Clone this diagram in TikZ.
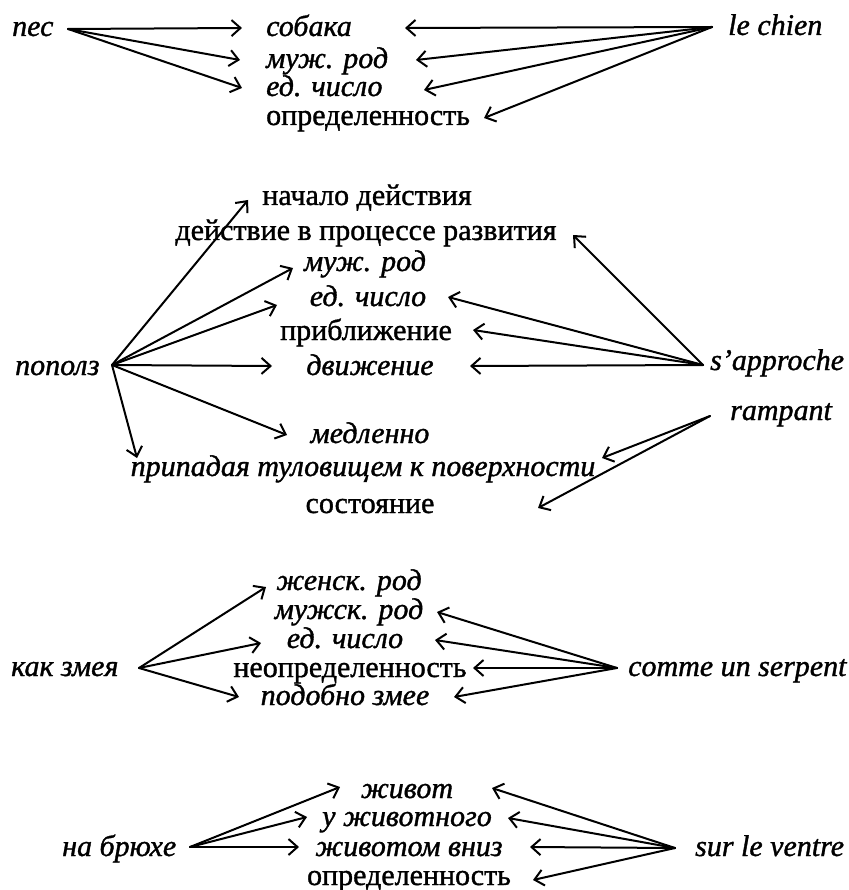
\documentclass[tikz,border=0pt]{standalone}
\usepackage{fontspec}
\setmainfont{Liberation Serif}[FakeBold=1.2]
\usetikzlibrary{arrows.meta}
\begin{document}
\begin{tikzpicture}[x=1pt,y=-1pt,
  lbl/.style={inner sep=0pt, text height=21pt, text depth=5pt, font=\fontsize{30}{32}\selectfont},
  it/.style={lbl, font=\fontsize{30}{32}\selectfont\itshape},
  arr/.style={line width=2pt, line cap=round, -{Straight Barb[length=9pt,width=16pt,line width=2pt]}},
  ]
\useasboundingbox[fill=white] (0,0) rectangle (848,890);

% ---------- block 1 ----------
\node[it, anchor=west] (pes) at (12,28) {пес};
\node[it, anchor=west] (chien) at (728,27) {le chien};
\node[it, anchor=west] (sobaka) at (266,28) {собака};
\node[it, anchor=west] (muzh1) at (266,60) {муж. род};
\node[it, anchor=west] (ed1) at (266,88) {ед. число};
\node[lbl, anchor=west] (opr1) at (266,117) {определенность};
\coordinate (pesA) at (68,29);
\coordinate (chienA) at (712,27);
\draw[arr] (pesA) -- ([shift={(-24,0)}]sobaka.west);
\draw[arr] (pesA) -- ([shift={(-26,0)}]muzh1.west);
\draw[arr] (pesA) -- ([shift={(-24,0)}]ed1.west);
\draw[arr] (chienA) -- ([shift={(139,0)}]sobaka.west);
\draw[arr] (chienA) -- ([shift={(150,0)}]muzh1.west);
\draw[arr] (chienA) -- ([shift={(158,2)}]ed1.west);
\draw[arr] (chienA) -- ([shift={(218,1)}]opr1.west);

% ---------- block 2 ----------
\node[lbl] (nach) at (367,197) {начало действия};
\node[lbl] (deist) at (366,232) {действие в процессе развития};
\node[it] (muzh2) at (365,263) {муж. род};
\node[it] (ed2) at (368,298) {ед. число};
\node[lbl] (pribl) at (366,332) {приближение};
\node[it] (dvizh) at (370,367) {движение};
\node[it] (medl) at (370,435) {медленно};
\node[it] (pripad) at (363,468) {припадая туловищем к поверхности};
\node[lbl] (sost) at (370,505) {состояние};
\node[it, anchor=west] (popolz) at (15,367) {пополз};
\node[it, anchor=west] (sappr) at (710,362) {s’approche};
\node[it, anchor=west] (rampant) at (730,412) {rampant};
\coordinate (popolzA) at (112,365);
\coordinate (sapprA) at (703,365);
\coordinate (rampantA) at (710,416);
\draw[arr] (popolzA) -- ([shift={(-119,3)}]nach.center);
\draw[arr] (popolzA) -- ([shift={(-72,5)}]muzh2.center);
\draw[arr] (popolzA) -- ([shift={(-91,7)}]ed2.center);
\draw[arr] (popolzA) -- ([shift={(-98,-1)}]dvizh.center);
\draw[arr] (popolzA) -- ([shift={(-83,0)}]medl.center);
\draw[arr] (popolzA) -- ([shift={(-226,-10)}]pripad.center);
\draw[arr] (sapprA) -- ([shift={(207,3)}]deist.center);
\draw[arr] (sapprA) -- ([shift={(80,-1)}]ed2.center);
\draw[arr] (sapprA) -- ([shift={(107,-2)}]pribl.center);
\draw[arr] (sapprA) -- ([shift={(100,-1)}]dvizh.center);
\draw[arr] (rampantA) -- ([shift={(239,-10)}]pripad.center);
\draw[arr] (rampantA) -- ([shift={(168,3)}]sost.center);

% ---------- block 3 ----------
\node[it] (zhensk) at (349,582) {женск. род};
\node[it] (muzhsk) at (349,611) {мужск. род};
\node[it] (ed3) at (345,640) {ед. число};
\node[lbl] (neopr) at (350,669) {неопределенность};
\node[it] (podob) at (345,697) {подобно змее};
\node[it, anchor=west] (kak) at (11,668) {как змея};
\node[it, anchor=west] (comme) at (628,668) {comme un serpent};
\coordinate (kakA) at (139,668);
\coordinate (commeA) at (617,668);
\draw[arr] (kakA) -- ([shift={(-83,5)}]zhensk.center);
\draw[arr] (kakA) -- ([shift={(-84,3)}]ed3.center);
\draw[arr] (kakA) -- ([shift={(-106,0)}]podob.center);
\draw[arr] (commeA) -- ([shift={(88,1)}]muzhsk.center);
\draw[arr] (commeA) -- ([shift={(90,0)}]ed3.center);
\draw[arr] (commeA) -- ([shift={(123,-1)}]neopr.center);
\draw[arr] (commeA) -- ([shift={(109,0)}]podob.center);

% ---------- block 4 ----------
\node[it] (zhivot) at (407,790) {живот};
\node[it] (uzhiv) at (407,818) {у животного};
\node[it] (zhivniz) at (409,848) {животом вниз};
\node[lbl] (opr2) at (409,877) {определенность};
\node[it, anchor=west] (brjuhe) at (62,848) {на брюхе};
\node[it, anchor=west] (ventre) at (695,848) {sur le ventre};
\coordinate (brjuheA) at (190,847);
\coordinate (ventreA) at (675,848);
\draw[arr] (brjuheA) -- ([shift={(-67,-3)}]zhivot.center);
\draw[arr] (brjuheA) -- ([shift={(-100,-1)}]uzhiv.center);
\draw[arr] (brjuheA) -- ([shift={(-110,-1)}]zhivniz.center);
\draw[arr] (ventreA) -- ([shift={(85,-2)}]zhivot.center);
\draw[arr] (ventreA) -- ([shift={(101,0)}]uzhiv.center);
\draw[arr] (ventreA) -- ([shift={(121,-1)}]zhivniz.center);
\draw[arr] (ventreA) -- ([shift={(124,3)}]opr2.center);
\end{tikzpicture}
\end{document}
